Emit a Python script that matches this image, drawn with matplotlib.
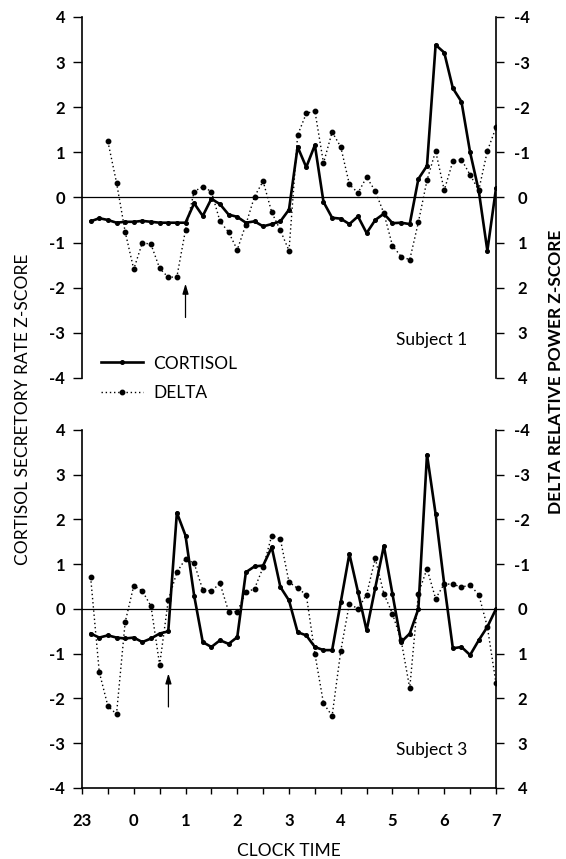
import numpy as np
import matplotlib
matplotlib.use('Agg')
import matplotlib.pyplot as plt
from matplotlib.lines import Line2D

plt.rcParams['font.family'] = ['Lato', 'DejaVu Sans']
plt.rcParams['axes.unicode_minus'] = False

# 10-min samples, 23:10 .. 07:00 (23 = 23:00, 24 = 0:00, ...)
hours = 23 + np.arange(1, 49) / 6.0

# subject 1
s1_cortisol = [-0.53, -0.46, -0.50, -0.56, -0.54, -0.54, -0.52, -0.54, -0.56, -0.56,
               -0.56, -0.56, -0.13, -0.41, -0.03, -0.15, -0.38, -0.43, -0.56, -0.53,
               -0.64, -0.59, -0.53, -0.27, 1.12, 0.67, 1.16, -0.10, -0.45, -0.47,
               -0.59, -0.42, -0.79, -0.50, -0.36, -0.57, -0.56, -0.59, 0.41, 0.70,
               3.38, 3.21, 2.42, 2.12, 1.00, 0.15, -1.18, 0.20]
# delta starts at 23:30, right axis (inverted)
s1_delta = [-1.24, -0.33, 0.76, 1.59, 1.00, 1.04, 1.57, 1.77, 1.76, 0.72,
            -0.13, -0.24, -0.13, 0.53, 0.77, 1.16, 0.60, -0.02, -0.36, 0.33,
            0.73, 1.18, -1.38, -1.86, -1.92, -0.76, -1.45, -1.12, -0.29, -0.10,
            -0.45, -0.14, 0.35, 1.07, 1.31, 1.38, 0.55, -0.38, -1.03, -0.16,
            -0.80, -0.84, -0.50, -0.16, -1.03, -1.55]

# subject 3
s3_cortisol = [-0.55, -0.64, -0.59, -0.64, -0.66, -0.64, -0.74, -0.66, -0.55, -0.50,
               2.15, 1.64, 0.30, -0.74, -0.85, -0.70, -0.78, -0.63, 0.82, 0.95,
               0.97, 1.38, 0.49, 0.19, -0.52, -0.59, -0.85, -0.92, -0.92, 0.15,
               1.23, 0.38, -0.48, 0.47, 1.41, 0.33, -0.74, -0.55, 0.00, 3.45,
               2.12, 0.55, -0.88, -0.85, -1.03, -0.70, -0.40, 0.00]
s3_delta = [-0.71, 1.41, 2.17, 2.35, 0.30, -0.52, -0.40, -0.06, 1.25, -0.19,
            -0.82, -1.12, -1.02, -0.43, -0.40, -0.57, 0.06, 0.06, -0.37, -0.45,
            -0.93, -1.64, -1.56, -0.60, -0.46, -0.32, 1.00, 2.11, 2.39, 0.94,
            -0.12, 0.00, -0.32, -1.13, -0.34, 0.11, 0.70, 1.77, -0.34, -0.90,
            -0.23, -0.56, -0.55, -0.49, -0.53, -0.32, 0.40, 1.66]

time_ticks = [23, 24, 25, 26, 27, 28, 29, 30, 31]
time_labels = ['23', '0', '1', '2', '3', '4', '5', '6', '7']
z_ticks = [-4, -3, -2, -1, 0, 1, 2, 3, 4]
sleep_onset = [25.0, 24.67]

fig = plt.figure(figsize=(5.66, 8.59), dpi=100)


def panel(rect, cort, delta_t, delta, subject, onset, arrow_y, bottom):
    ax = fig.add_axes(rect)
    ax2 = ax.twinx()
    ax.axhline(0, color='k', lw=0.9, zorder=1)
    ax.plot(hours, cort, color='k', lw=1.9, marker='o', ms=2.6, zorder=3)
    ax2.plot(delta_t, delta, color='k', lw=1.0, ls=(0, (1, 2)), marker='o', ms=3.2)
    ax.set_xlim(23, 31)
    ax.set_ylim(-4, 4)
    ax2.set_ylim(4, -4)
    ax.set_yticks(z_ticks)
    ax2.set_yticks(z_ticks)
    for s in ['top', 'right']:
        ax.spines[s].set_visible(False)
    for s in ['top', 'left', 'bottom']:
        ax2.spines[s].set_visible(False)
    ax.spines['left'].set_linewidth(1.2)
    ax2.spines['right'].set_linewidth(1.2)
    ax.tick_params(axis='y', direction='out', length=6.5, width=1.0, pad=5.5, labelsize=12)
    ax2.tick_params(axis='y', direction='out', length=6, width=1.0, pad=13, labelsize=12)
    for lab in ax.get_yticklabels():
        lab.set_fontweight('bold')
    for lab in ax2.get_yticklabels():
        lab.set_ha('center')
        lab.set_fontweight('bold')
    if bottom:
        ax.spines['bottom'].set_linewidth(1.2)
        ax.set_xticks(time_ticks)
        ax.set_xticklabels(time_labels, fontweight='bold')
        ax.set_xticks(np.arange(23.5, 31, 1.0), minor=True)
        ax.tick_params(axis='x', which='both', direction='out', length=4, width=1.0,
                       pad=14, labelsize=12)
        ax.set_xlabel('CLOCK TIME', fontsize=12.5, labelpad=10)
    else:
        ax.spines['bottom'].set_visible(False)
        ax.tick_params(axis='x', bottom=False, labelbottom=False)
    ax.text(30.45, -3.15, subject, ha='right', va='center', fontsize=12.5)
    ax.annotate('', xy=(onset, arrow_y[1]), xytext=(onset, arrow_y[0]),
                arrowprops=dict(arrowstyle='-|>,head_width=0.18,head_length=0.6',
                                color='k', lw=0.9, shrinkA=0, shrinkB=0))
    return ax


ax1 = panel([0.1449, 0.5600, 0.7314, 0.4203], s1_cortisol, hours[2:], s1_delta,
            'Subject 1', sleep_onset[0], (-2.66, -1.91), False)
ax3 = panel([0.1449, 0.0827, 0.7314, 0.4168], s3_cortisol, hours, s3_delta,
            'Subject 3', sleep_onset[1], (-2.19, -1.44), True)

handles = [Line2D([], [], color='k', lw=1.9, marker='o', ms=2.6),
           Line2D([], [], color='k', lw=1.0, ls=(0, (1, 2)), marker='o', ms=3.2)]
ax1.legend(handles, ['CORTISOL', 'DELTA'], loc='upper left', bbox_to_anchor=(0.046, 0.062),
           frameon=False, handlelength=2.4, handletextpad=0.6, labelspacing=0.75,
           borderpad=0, borderaxespad=0, fontsize=12.5)

fig.text(0.04, 0.523, 'CORTISOL SECRETORY RATE Z-SCORE', rotation=90,
         ha='center', va='center', fontsize=12.5)
fig.text(0.982, 0.567, 'DELTA RELATIVE POWER Z-SCORE', rotation=90,
         ha='center', va='center', fontsize=12.5, fontweight='bold')

fig.savefig('out.png', dpi=100)
